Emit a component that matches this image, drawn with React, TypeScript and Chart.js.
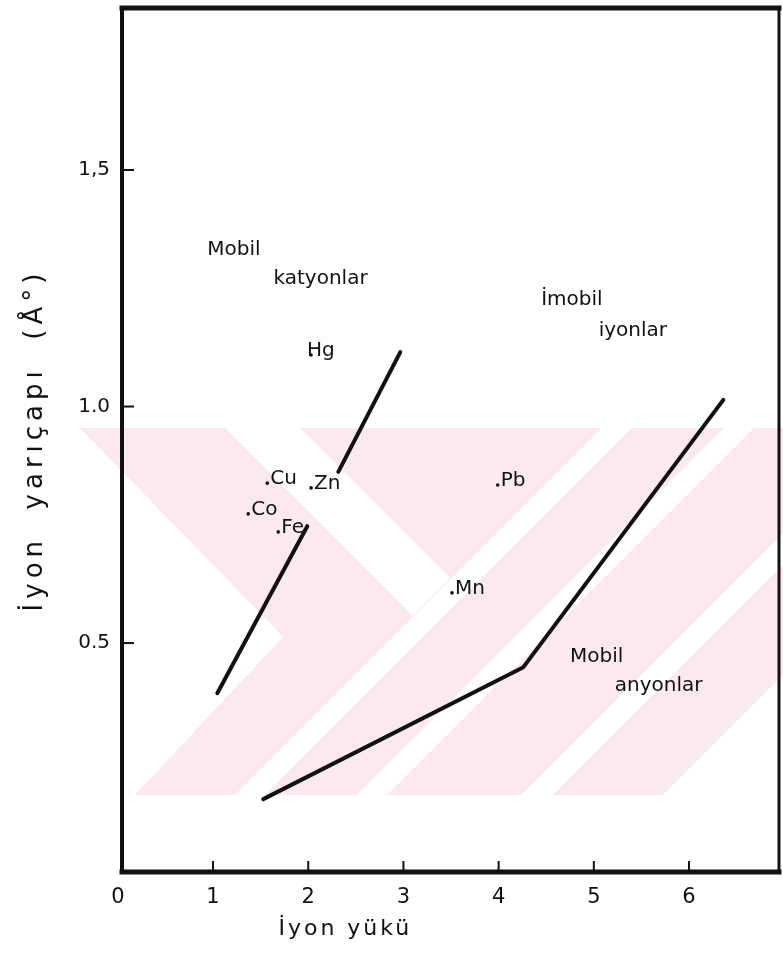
import React, { useEffect, useRef } from "react";
import { Chart, registerables } from "chart.js";

Chart.register(...registerables);

// ---------- data ----------
const xTickValues = [0, 1, 2, 3, 4, 5, 6];
const xTickLabels = ["0", "1", "2", "3", "4", "5", "6"];
const yTickValues = [0.5, 1.0, 1.5];
const yTickLabels = ["0.5", "1.0", "1,5"];

const xTitle = "İyon yükü";
const yTitle = "İyon  yarıçapı  (Å°)";

// boundary lines (x = ion charge, y = ion radius)
const cationLowerX = [1.045, 1.99];
const cationLowerY = [0.394, 0.747];
const cationUpperX = [2.316, 2.967];
const cationUpperY = [0.862, 1.115];
const anionLineX = [1.528, 4.26, 6.36];
const anionLineY = [0.17, 0.449, 1.014];

// ions
const ionNames = ["Hg", "Cu", "Zn", "Co", "Fe", "Pb", "Mn"];
const ionCharge = [2.03, 1.57, 2.03, 1.37, 1.685, 3.99, 3.51];
const ionRadius = [1.109, 0.838, 0.828, 0.773, 0.735, 0.834, 0.606];

// region captions
const regionTexts = ["Mobil", "katyonlar", "İmobil", "iyonlar", "Mobil", "anyonlar"];
const regionX = [1.22, 2.13, 4.77, 5.41, 5.03, 5.68];
const regionY = [1.331, 1.27, 1.226, 1.16, 0.47, 0.41];

// ---------- styling ----------
const FONT = "'DejaVu Sans', 'Liberation Sans', sans-serif";
const INK = "#111111";
const labelDx: Record<string, number> = { Hg: -4 };

const toPts = (xs: number[], ys: number[]) => xs.map((x, i) => ({ x, y: ys[i] }));

function poly(ctx: CanvasRenderingContext2D, pts: number[][]) {
  ctx.beginPath();
  pts.forEach((p, i) => (i === 0 ? ctx.moveTo(p[0], p[1]) : ctx.lineTo(p[0], p[1])));
  ctx.closePath();
}

const customPlugin = {
  id: "customDraw",
  beforeDatasetsDraw(chart: any) {
    // faint watermark in the background of the scanned figure
    const ctx: CanvasRenderingContext2D = chart.ctx;
    ctx.save();
    const base = [
      [80, 428], [783, 428], [783, 675], [663, 795], [135, 795], [283, 637],
    ];
    poly(ctx, base);
    ctx.fillStyle = "#fce9ed";
    ctx.fill();
    ctx.clip();
    ctx.fillStyle = "#ffffff";
    const whites = [
      [[235, 795], [265, 795], [632, 428], [602, 428]],
      [[357, 795], [387, 795], [754, 428], [724, 428]],
      [[521, 795], [553, 795], [920, 428], [888, 428]],
      [[225, 428], [300, 428], [450, 578], [413, 616]],
    ];
    whites.forEach((w) => {
      poly(ctx, w);
      ctx.fill();
    });
    ctx.restore();
  },
  afterDatasetsDraw(chart: any) {
    const ctx: CanvasRenderingContext2D = chart.ctx;
    const xs = chart.scales.x;
    const ys = chart.scales.y;
    ctx.save();
    ctx.fillStyle = INK;
    // ion labels, baseline at the dot
    const meta = chart.getDatasetMeta(3);
    ctx.font = `20px ${FONT}`;
    ctx.textAlign = "left";
    ctx.textBaseline = "alphabetic";
    meta.data.forEach((el: any, i: number) => {
      const name = ionNames[i];
      const dx = labelDx[name] !== undefined ? labelDx[name] : 3;
      ctx.fillText(name, el.x + dx, el.y + 1);
    });
    // region captions
    ctx.font = `20px ${FONT}`;
    ctx.textAlign = "center";
    ctx.textBaseline = "middle";
    regionTexts.forEach((t, i) => {
      ctx.fillText(t, xs.getPixelForValue(regionX[i]), ys.getPixelForValue(regionY[i]));
    });
    ctx.restore();
  },
  afterDraw(chart: any) {
    const ctx: CanvasRenderingContext2D = chart.ctx;
    const a = chart.chartArea;
    const xs = chart.scales.x;
    const ys = chart.scales.y;
    ctx.save();
    ctx.strokeStyle = INK;
    ctx.lineCap = "square";
    // frame
    ctx.lineWidth = 4;
    ctx.beginPath();
    ctx.moveTo(a.left, a.top);
    ctx.lineTo(a.left, a.bottom);
    ctx.stroke();
    ctx.lineWidth = 5;
    ctx.beginPath();
    ctx.moveTo(a.left, a.bottom);
    ctx.lineTo(a.right, a.bottom);
    ctx.stroke();
    ctx.beginPath();
    ctx.moveTo(a.left, a.top);
    ctx.lineTo(a.right, a.top);
    ctx.stroke();
    ctx.lineWidth = 3;
    ctx.beginPath();
    ctx.moveTo(a.right, a.top);
    ctx.lineTo(a.right, a.bottom);
    ctx.stroke();
    // inward tick marks
    ctx.lineWidth = 2;
    ctx.lineCap = "butt";
    xTickValues.forEach((v) => {
      if (v === 0) return;
      const px = xs.getPixelForValue(v);
      ctx.beginPath();
      ctx.moveTo(px, a.bottom);
      ctx.lineTo(px, a.bottom - 11);
      ctx.stroke();
    });
    yTickValues.forEach((v) => {
      const py = ys.getPixelForValue(v);
      ctx.beginPath();
      ctx.moveTo(a.left, py);
      ctx.lineTo(a.left + 12, py);
      ctx.stroke();
    });
    // axis titles
    ctx.fillStyle = INK;
    ctx.font = `22px ${FONT}`;
    (ctx as any).letterSpacing = "3px";
    ctx.textAlign = "center";
    ctx.textBaseline = "middle";
    ctx.fillText(xTitle, xs.getPixelForValue(2.39), 929);
    ctx.translate(35, (a.top + a.bottom) / 2);
    ctx.rotate(-Math.PI / 2);
    ctx.font = `26px ${FONT}`;
    (ctx as any).letterSpacing = "5px";
    ctx.fillText(yTitle, 0, 0);
    ctx.restore();
  },
};

export default function App() {
  const ref = useRef<HTMLCanvasElement | null>(null);

  useEffect(() => {
    document.body.style.margin = "0";
    const canvas = ref.current;
    if (!canvas) return;
    const chart = new Chart(canvas, {
      type: "scatter",
      data: {
        datasets: [
          {
            label: "cation lower",
            data: toPts(cationLowerX, cationLowerY),
            showLine: true,
            borderColor: INK,
            borderWidth: 4,
            pointRadius: 0,
            borderCapStyle: "round",
          },
          {
            label: "cation upper",
            data: toPts(cationUpperX, cationUpperY),
            showLine: true,
            borderColor: INK,
            borderWidth: 4,
            pointRadius: 0,
            borderCapStyle: "round",
          },
          {
            label: "anion",
            data: toPts(anionLineX, anionLineY),
            showLine: true,
            borderColor: INK,
            borderWidth: 4,
            pointRadius: 0,
            borderCapStyle: "round",
            borderJoinStyle: "round",
          },
          {
            label: "ions",
            data: toPts(ionCharge, ionRadius),
            showLine: false,
            pointRadius: 1.8,
            pointBackgroundColor: INK,
            pointBorderWidth: 0,
          },
        ],
      } as any,
      options: {
        animation: false,
        responsive: false,
        events: [],
        layout: { padding: { top: 8, right: 4, left: 0, bottom: 0 } },
        plugins: {
          legend: { display: false },
          tooltip: { enabled: false },
          title: { display: false },
        },
        scales: {
          x: {
            type: "linear",
            min: 0.044,
            max: 6.945,
            grid: { display: false, drawTicks: false },
            border: { display: false },
            afterBuildTicks: (s: any) => {
              s.ticks = xTickValues.map((v) => ({ value: v }));
            },
            afterFit: (s: any) => {
              s.height = 85;
              s.paddingLeft = 0;
              s.paddingRight = 0;
            },
            ticks: {
              autoSkip: false,
              maxRotation: 0,
              padding: 13,
              color: INK,
              font: { size: 21, family: FONT },
              callback: (v: any) => xTickLabels[xTickValues.indexOf(Number(v))],
            },
          },
          y: {
            type: "linear",
            min: 0.016,
            max: 1.8425,
            grid: { display: false, drawTicks: false },
            border: { display: false },
            afterBuildTicks: (s: any) => {
              s.ticks = yTickValues.map((v) => ({ value: v }));
            },
            afterFit: (s: any) => {
              s.width = 122;
              s.paddingTop = 0;
              s.paddingBottom = 0;
            },
            ticks: {
              autoSkip: false,
              padding: 12,
              color: INK,
              font: { size: 20, family: FONT },
              callback: (v: any) => yTickLabels[yTickValues.indexOf(Number(v))],
            },
          },
        },
      } as any,
      plugins: [customPlugin],
    });
    return () => chart.destroy();
  }, []);

  return (
    <div style={{ position: "absolute", left: 0, top: 0, width: 783, height: 957, background: "#fff" }}>
      <canvas ref={ref} width={783} height={957} style={{ display: "block", width: 783, height: 957 }} />
    </div>
  );
}
